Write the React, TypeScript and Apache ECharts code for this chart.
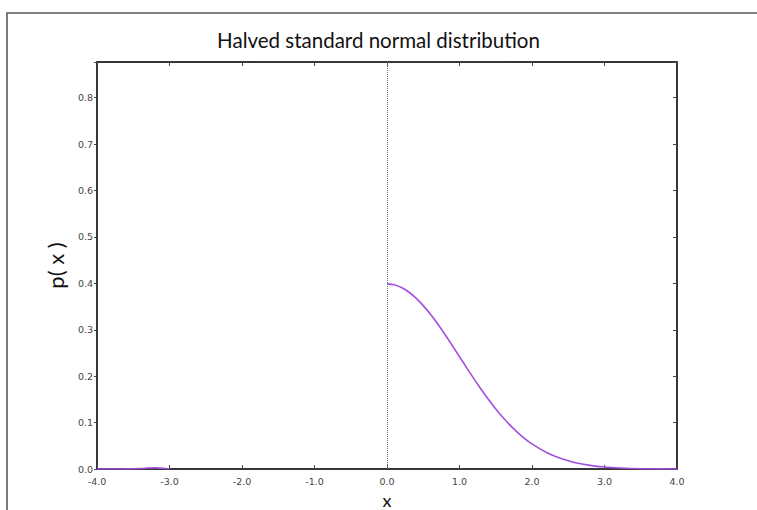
import React, { useEffect, useRef } from "react";
import * as echarts from "echarts";

// Left tail near the -4..-3 end of the axis
const leftX = [-4.0, -3.6, -3.4, -3.3, -3.2, -3.1, -3.0];
const leftY = [0, 0.0003, 0.001, 0.002, 0.0025, 0.0015, 0.0004];

// Positive half of the density
const rightX = [0, 0.1, 0.2, 0.3, 0.4, 0.5, 0.6, 0.7, 0.8, 0.9, 1.0, 1.1, 1.2, 1.3, 1.4, 1.5, 1.6, 1.7, 1.8, 1.9, 2.0, 2.2, 2.4, 2.6, 2.8, 3.0, 3.3, 3.6, 4.0];
const rightY = [0.3989, 0.397, 0.391, 0.3814, 0.3683, 0.3521, 0.3332, 0.3123, 0.2897, 0.2661, 0.242, 0.2179, 0.1942, 0.1714, 0.1497, 0.1295, 0.1109, 0.094, 0.079, 0.0656, 0.054, 0.0355, 0.0224, 0.0136, 0.0079, 0.0044, 0.0017, 0.0006, 0.0001];

const xTicks = [-4, -3, -2, -1, 0, 1, 2, 3, 4];
const yMax = 0.877;

const titleText = "Halved standard normal distribution";
const xName = "x";
const yName = "p( x )";

export default function App() {
  const ref = useRef<HTMLDivElement>(null);

  useEffect(() => {
    if (!ref.current) return;
    const chart = echarts.init(ref.current, undefined, { renderer: "svg" });

    const seriesData: (number | null)[][] = [];
    leftX.forEach((x, i) => seriesData.push([x, leftY[i]]));
    seriesData.push([-1.5, null as any]);
    rightX.forEach((x, i) => seriesData.push([x, rightY[i]]));

    const tickLabel = { fontFamily: "DejaVu Sans", fontSize: 9.5, color: "#444" };
    const frame = "#2b2b2b";
    const lineOpts = { show: true, onZero: false, lineStyle: { color: frame, width: 1.5 } };

    chart.setOption({
      animation: false,
      backgroundColor: "#fff",
      title: {
        text: titleText,
        left: "center",
        top: 24,
        textStyle: { fontFamily: "Lato", fontSize: 20.5, fontWeight: "normal", color: "#111" },
      },
      grid: {
        left: 97,
        top: 62,
        width: 580,
        height: 407,
        outerBoundsMode: "none",
        containLabel: false,
        show: true,
        borderColor: frame,
        borderWidth: 1.5,
        backgroundColor: "#fff",
      },
      xAxis: [
        {
          type: "value",
          position: "bottom",
          min: xTicks[0],
          max: xTicks[xTicks.length - 1],
          interval: 1,
          name: xName,
          nameLocation: "middle",
          nameGap: 18,
          nameTextStyle: { fontFamily: "Lato", fontSize: 18, color: "#111", lineHeight: 18 },
          axisLine: lineOpts,
          axisTick: { show: true, inside: true, length: 4, lineStyle: { color: "#444" } },
          axisLabel: { ...tickLabel, margin: 7, formatter: (v: number) => v.toFixed(1) },
          splitLine: { show: false },
        },
        {
          type: "value",
          position: "top",
          min: xTicks[0],
          max: xTicks[xTicks.length - 1],
          interval: 1,
          axisLine: lineOpts,
          axisTick: { show: true, inside: true, length: 4, lineStyle: { color: "#444" } },
          axisLabel: { show: false },
          splitLine: { show: false },
        },
      ],
      yAxis: [
        {
          type: "value",
          position: "left",
          min: 0,
          max: yMax,
          interval: 0.1,
          name: yName,
          nameLocation: "middle",
          nameGap: 28,
          nameTextStyle: { fontFamily: "Lato", fontSize: 22, color: "#111" },
          axisLine: lineOpts,
          axisTick: { show: true, inside: false, length: 3, lineStyle: { color: "#444" } },
          axisLabel: {
            ...tickLabel,
            margin: 4,
            formatter: (v: number) => (v > 0.85 ? "" : v.toFixed(1)),
          },
          splitLine: { show: false },
        },
        {
          type: "value",
          position: "right",
          min: 0,
          max: yMax,
          interval: 0.1,
          axisLine: lineOpts,
          axisTick: { show: true, inside: true, length: 4, lineStyle: { color: "#444" } },
          axisLabel: { show: false },
          splitLine: { show: false },
        },
      ],
      graphic: [
        {
          type: "polyline",
          shape: { points: [[7, 510], [7, 13], [757, 13]] },
          style: { stroke: "#5a5a5a", lineWidth: 1.6, fill: "none" },
          silent: true,
        },
      ],
      series: [
        {
          type: "line",
          xAxisIndex: 0,
          yAxisIndex: 0,
          data: seriesData,
          showSymbol: false,
          smooth: 0.3,
          connectNulls: false,
          lineStyle: { color: "#a24fe0", width: 1.6 },
          z: 3,
          markLine: {
            silent: true,
            symbol: ["none", "none"],
            label: { show: false },
            lineStyle: { color: "#777", type: "dotted", width: 1 },
            data: [{ xAxis: 0 }],
          },
        },
      ],
    });

    return () => chart.dispose();
  }, []);

  return (
    <div
      ref={ref}
      style={{ position: "fixed", left: 0, top: 0, width: 757, height: 510 }}
    />
  );
}
